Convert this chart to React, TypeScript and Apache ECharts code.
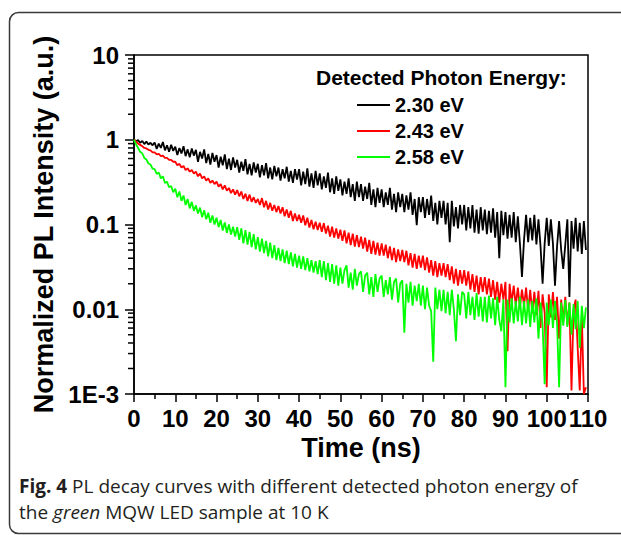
import React, { useEffect, useRef } from 'react';
import * as echarts from 'echarts';

const SERIES_NAMES = ['2.30 eV', '2.43 eV', '2.58 eV'];
const SERIES_COLORS = ['#000000', '#ff0000', '#00ff00'];
const STEP_NS = 0.5;

const BLACK_230 = [
  1.0, 0.96, 0.99, 0.92, 0.97, 0.89, 0.95, 0.88, 0.92, 0.86,
  0.93, 0.78, 0.9, 0.8, 0.94, 0.75, 0.86, 0.72, 0.87, 0.74,
  0.83, 0.66, 0.8, 0.69, 0.84, 0.64, 0.77, 0.62, 0.79, 0.65,
  0.76, 0.55, 0.72, 0.6, 0.77, 0.53, 0.68, 0.51, 0.7, 0.55,
  0.66, 0.47, 0.63, 0.5, 0.67, 0.45, 0.6, 0.44, 0.62, 0.47,
  0.58, 0.41, 0.55, 0.43, 0.59, 0.39, 0.52, 0.38, 0.54, 0.41,
  0.52, 0.36, 0.5, 0.38, 0.53, 0.35, 0.47, 0.34, 0.49, 0.37,
  0.47, 0.33, 0.45, 0.35, 0.48, 0.32, 0.43, 0.31, 0.45, 0.34,
  0.45, 0.29, 0.42, 0.3, 0.46, 0.28, 0.4, 0.27, 0.43, 0.29,
  0.4, 0.26, 0.37, 0.27, 0.41, 0.24, 0.35, 0.23, 0.37, 0.25,
  0.34, 0.22, 0.32, 0.23, 0.35, 0.21, 0.3, 0.19, 0.32, 0.21,
  0.3, 0.19, 0.28, 0.2, 0.31, 0.17, 0.26, 0.16, 0.27, 0.18,
  0.26, 0.16, 0.24, 0.17, 0.27, 0.15, 0.23, 0.14, 0.24, 0.16,
  0.23, 0.14, 0.22, 0.15, 0.24, 0.13, 0.2, 0.098, 0.21, 0.14,
  0.21, 0.12, 0.2, 0.13, 0.22, 0.11, 0.18, 0.1, 0.19, 0.12,
  0.19, 0.1, 0.18, 0.062, 0.19, 0.095, 0.16, 0.09, 0.17, 0.1,
  0.17, 0.085, 0.16, 0.09, 0.17, 0.08, 0.15, 0.078, 0.16, 0.085,
  0.15, 0.077, 0.145, 0.08, 0.155, 0.07, 0.14, 0.04, 0.145, 0.075,
  0.14, 0.068, 0.13, 0.07, 0.14, 0.062, 0.125, 0.06, 0.024, 0.066,
  0.13, 0.062, 0.12, 0.065, 0.13, 0.058, 0.115, 0.055, 0.02, 0.06,
  0.12, 0.056, 0.115, 0.06, 0.019, 0.055, 0.11, 0.05, 0.03, 0.058,
  0.115, 0.014, 0.11, 0.052, 0.12, 0.048, 0.105, 0.045, 0.11, 0.05,
];

const RED_243 = [
  1.0, 0.95, 0.9, 0.87, 0.84, 0.8, 0.79, 0.76, 0.75, 0.71,
  0.71, 0.67, 0.68, 0.64, 0.65, 0.61, 0.61, 0.58, 0.58, 0.55,
  0.55, 0.5, 0.52, 0.47, 0.49, 0.44, 0.46, 0.42, 0.44, 0.4,
  0.42, 0.37, 0.4, 0.35, 0.37, 0.33, 0.35, 0.31, 0.33, 0.3,
  0.32, 0.28, 0.3, 0.26, 0.29, 0.25, 0.27, 0.235, 0.26, 0.225,
  0.255, 0.215, 0.245, 0.2, 0.23, 0.19, 0.225, 0.185, 0.21, 0.18,
  0.2, 0.17, 0.205, 0.16, 0.19, 0.15, 0.18, 0.145, 0.17, 0.14,
  0.165, 0.135, 0.16, 0.125, 0.15, 0.12, 0.145, 0.11, 0.135, 0.11,
  0.13, 0.105, 0.128, 0.098, 0.12, 0.092, 0.113, 0.088, 0.108, 0.086,
  0.105, 0.082, 0.104, 0.078, 0.097, 0.072, 0.094, 0.07, 0.09, 0.068,
  0.087, 0.064, 0.085, 0.06, 0.08, 0.057, 0.078, 0.055, 0.075, 0.054,
  0.072, 0.052, 0.07, 0.048, 0.066, 0.045, 0.064, 0.044, 0.061, 0.043,
  0.06, 0.043, 0.058, 0.04, 0.055, 0.038, 0.053, 0.036, 0.051, 0.037,
  0.05, 0.036, 0.049, 0.033, 0.046, 0.031, 0.045, 0.03, 0.043, 0.031,
  0.043, 0.029, 0.041, 0.027, 0.038, 0.025, 0.037, 0.024, 0.035, 0.025,
  0.035, 0.024, 0.034, 0.022, 0.032, 0.02, 0.03, 0.019, 0.029, 0.02,
  0.029, 0.019, 0.028, 0.017, 0.026, 0.016, 0.025, 0.015, 0.024, 0.016,
  0.024, 0.015, 0.023, 0.014, 0.022, 0.013, 0.021, 0.012, 0.02, 0.013,
  0.021, 0.0032, 0.02, 0.012, 0.019, 0.011, 0.018, 0.0105, 0.017, 0.011,
  0.018, 0.0095, 0.017, 0.009, 0.016, 0.0085, 0.0165, 0.006, 0.015, 0.009,
  0.0012, 0.015, 0.008, 0.016, 0.0075, 0.014, 0.0045, 0.013, 0.007, 0.014,
  0.0065, 0.012, 0.0011, 0.01, 0.013, 0.0035, 0.0011, 0.0085, 0.001, 0.0012,
];

const GREEN_258 = [
  1.0, 0.88, 0.8, 0.72, 0.69, 0.61, 0.585, 0.525, 0.51, 0.455,
  0.45, 0.395, 0.41, 0.35, 0.37, 0.31, 0.32, 0.275, 0.285, 0.24,
  0.265, 0.21, 0.245, 0.19, 0.22, 0.17, 0.2, 0.155, 0.185, 0.145,
  0.168, 0.135, 0.158, 0.122, 0.147, 0.115, 0.138, 0.105, 0.128, 0.1,
  0.12, 0.093, 0.113, 0.085, 0.106, 0.08, 0.1, 0.076, 0.094, 0.072,
  0.093, 0.066, 0.09, 0.06, 0.086, 0.058, 0.082, 0.054, 0.077, 0.051,
  0.071, 0.048, 0.068, 0.046, 0.064, 0.042, 0.061, 0.04, 0.057, 0.038,
  0.053, 0.037, 0.051, 0.035, 0.049, 0.034, 0.047, 0.032, 0.045, 0.031,
  0.043, 0.03, 0.042, 0.029, 0.04, 0.028, 0.038, 0.027, 0.037, 0.026,
  0.038, 0.024, 0.037, 0.022, 0.035, 0.021, 0.034, 0.02, 0.033, 0.019,
  0.031, 0.02, 0.029, 0.033, 0.018, 0.027, 0.017, 0.03, 0.019, 0.026,
  0.028, 0.016, 0.025, 0.027, 0.015, 0.024, 0.014, 0.026, 0.016, 0.023,
  0.025, 0.014, 0.022, 0.015, 0.024, 0.013, 0.021, 0.023, 0.012, 0.02,
  0.022, 0.0053, 0.02, 0.012, 0.021, 0.011, 0.019, 0.0125, 0.02, 0.011,
  0.019, 0.01, 0.018, 0.011, 0.0095, 0.0024, 0.018, 0.01, 0.017, 0.0095,
  0.017, 0.009, 0.016, 0.0085, 0.017, 0.01, 0.0042, 0.015, 0.0085, 0.016,
  0.015, 0.0078, 0.016, 0.0085, 0.014, 0.0075, 0.0155, 0.0082, 0.014, 0.0072,
  0.014, 0.007, 0.0145, 0.0078, 0.0135, 0.0065, 0.014, 0.0075, 0.0055, 0.013,
  0.0012, 0.013, 0.007, 0.0135, 0.0068, 0.0125, 0.0072, 0.014, 0.0065, 0.0125,
  0.0068, 0.013, 0.0062, 0.0125, 0.007, 0.0135, 0.0045, 0.012, 0.0066, 0.0013,
  0.012, 0.0065, 0.013, 0.006, 0.0125, 0.0068, 0.0012, 0.012, 0.0064, 0.0128,
  0.0062, 0.012, 0.005, 0.0115, 0.0058, 0.0125, 0.0035, 0.011, 0.006, 0.0105,
];

const SERIES_VALUES = [BLACK_230, RED_243, GREEN_258];

const X_MIN = 0;
const X_MAX = 110;
const X_INTERVAL = 10;
const Y_MIN = 0.001;
const Y_MAX = 10;
const Y_TICK_LABELS = ['1E-3', '0.01', '0.1', '1', '10'];
const Y_MINOR_TICKS = [
  0.002, 0.003, 0.004, 0.005, 0.006, 0.007, 0.008, 0.009,
  0.02, 0.03, 0.04, 0.05, 0.06, 0.07, 0.08, 0.09,
  0.2, 0.3, 0.4, 0.5, 0.6, 0.7, 0.8, 0.9,
  2, 3, 4, 5, 6, 7, 8, 9,
];

const X_TITLE = 'Time (ns)';
const Y_TITLE = 'Normalized PL Intensity (a.u.)';
const LEGEND_TITLE = 'Detected Photon Energy:';
const CAPTION_1 = '{b|Fig. 4} PL decay curves with different detected photon energy of';
const CAPTION_2 = 'the {i|green} MQW LED sample at 10 K';

const FONT = '"Liberation Sans", Arial, Helvetica, sans-serif';
const CAP_FONT = '"Open Sans", "Noto Sans", sans-serif';

const toPairs = (vals: number[]) => vals.map((v, i) => [i * STEP_NS, v]);

export default function App() {
  const ref = useRef<HTMLDivElement>(null);

  useEffect(() => {
    document.body.style.margin = '0';
    if (!ref.current) return;
    const chart = echarts.init(ref.current, undefined, { renderer: 'svg' });

    const lineSeries = SERIES_NAMES.map((name, i) => ({
      type: 'line',
      name,
      data: toPairs(SERIES_VALUES[i]),
      showSymbol: false,
      symbol: 'none',
      clip: true,
      lineStyle: { color: SERIES_COLORS[i], width: 1.8 },
      itemStyle: { color: SERIES_COLORS[i] },
      z: 2,
    }));

    const option: any = {
      animation: false,
      grid: {
        left: 134,
        right: 33,
        top: 55,
        bottom: 141,
        show: true,
        borderColor: '#000',
        borderWidth: 1.5,
        backgroundColor: 'transparent',
      },
      xAxis: {
        type: 'value',
        min: X_MIN,
        max: X_MAX,
        interval: X_INTERVAL,
        name: X_TITLE,
        nameLocation: 'middle',
        nameGap: 40,
        nameTextStyle: { fontSize: 27, fontWeight: 'bold', color: '#000', fontFamily: FONT },
        axisLine: { show: true, lineStyle: { color: '#000', width: 1.5 } },
        axisTick: { show: true, length: 8, lineStyle: { color: '#000', width: 1.5 } },
        minorTick: { show: true, splitNumber: 2, length: 5, lineStyle: { color: '#000', width: 1.5 } },
        axisLabel: { margin: 12, fontSize: 24, fontWeight: 'bold', color: '#000', fontFamily: FONT },
        splitLine: { show: false },
        minorSplitLine: { show: false },
      },
      yAxis: {
        type: 'log',
        logBase: 10,
        min: Y_MIN,
        max: Y_MAX,
        splitNumber: 4,
        name: Y_TITLE,
        nameLocation: 'middle',
        nameGap: 70,
        nameTextStyle: { fontSize: 27, fontWeight: 'bold', color: '#000', fontFamily: FONT },
        axisLine: { show: true, lineStyle: { color: '#000', width: 1.5 } },
        axisTick: { show: true, length: 9, lineStyle: { color: '#000', width: 1.5 } },
        axisLabel: {
          margin: 15,
          fontSize: 24,
          fontWeight: 'bold',
          color: '#000',
          fontFamily: FONT,
          formatter: (v: number) => {
            const e = Math.round(Math.log10(v));
            return Y_TICK_LABELS[e + 3] ?? '';
          },
        },
        splitLine: { show: false },
      },
      legend: {
        data: SERIES_NAMES,
        orient: 'vertical',
        left: 357,
        top: 95,
        padding: 0,
        itemWidth: 33,
        itemHeight: 2,
        itemGap: 6,
        icon: 'rect',
        selectedMode: false,
        textStyle: { fontSize: 20, fontWeight: 'bold', color: '#000', fontFamily: FONT, lineHeight: 20 },
      },
      graphic: [
        {
          type: 'rect',
          silent: true,
          z: -10,
          shape: { x: 9.5, y: 12.5, width: 660, height: 521, r: 9 },
          style: { fill: 'none', stroke: '#3a3a3a', lineWidth: 1.5 },
        },
        {
          type: 'text',
          left: 316,
          top: 67,
          style: { text: LEGEND_TITLE, font: `bold 21px ${FONT}`, fill: '#000' },
        },
        {
          type: 'text',
          left: 19,
          top: 476,
          style: {
            text: CAPTION_1,
            font: `19px ${CAP_FONT}`,
            fill: '#231f20',
            rich: { b: { fontWeight: 'bold', fontSize: 19, fontFamily: CAP_FONT, fill: '#231f20' } },
          },
        },
        {
          type: 'text',
          left: 19,
          top: 502,
          style: {
            text: CAPTION_2,
            font: `19px ${CAP_FONT}`,
            fill: '#231f20',
            rich: { i: { fontStyle: 'italic', fontSize: 19, fontFamily: CAP_FONT, fill: '#231f20' } },
          },
        },
      ],
      series: [
        ...lineSeries,
        {
          type: 'custom',
          name: 'yMinorTicks',
          silent: true,
          clip: false,
          z: 3,
          data: Y_MINOR_TICKS.map((v) => [X_MIN, v]),
          renderItem: (_params: any, api: any) => {
            const p = api.coord([api.value(0), api.value(1)]);
            return {
              type: 'line',
              shape: { x1: p[0] - 6, y1: p[1], x2: p[0], y2: p[1] },
              style: { stroke: '#000', lineWidth: 1.5 },
            };
          },
        },
      ],
    };

    chart.setOption(option);
    return () => chart.dispose();
  }, []);

  return (
    <div
      ref={ref}
      style={{ position: 'fixed', left: 0, top: 0, width: 621, height: 535, background: '#fff' }}
    />
  );
}
